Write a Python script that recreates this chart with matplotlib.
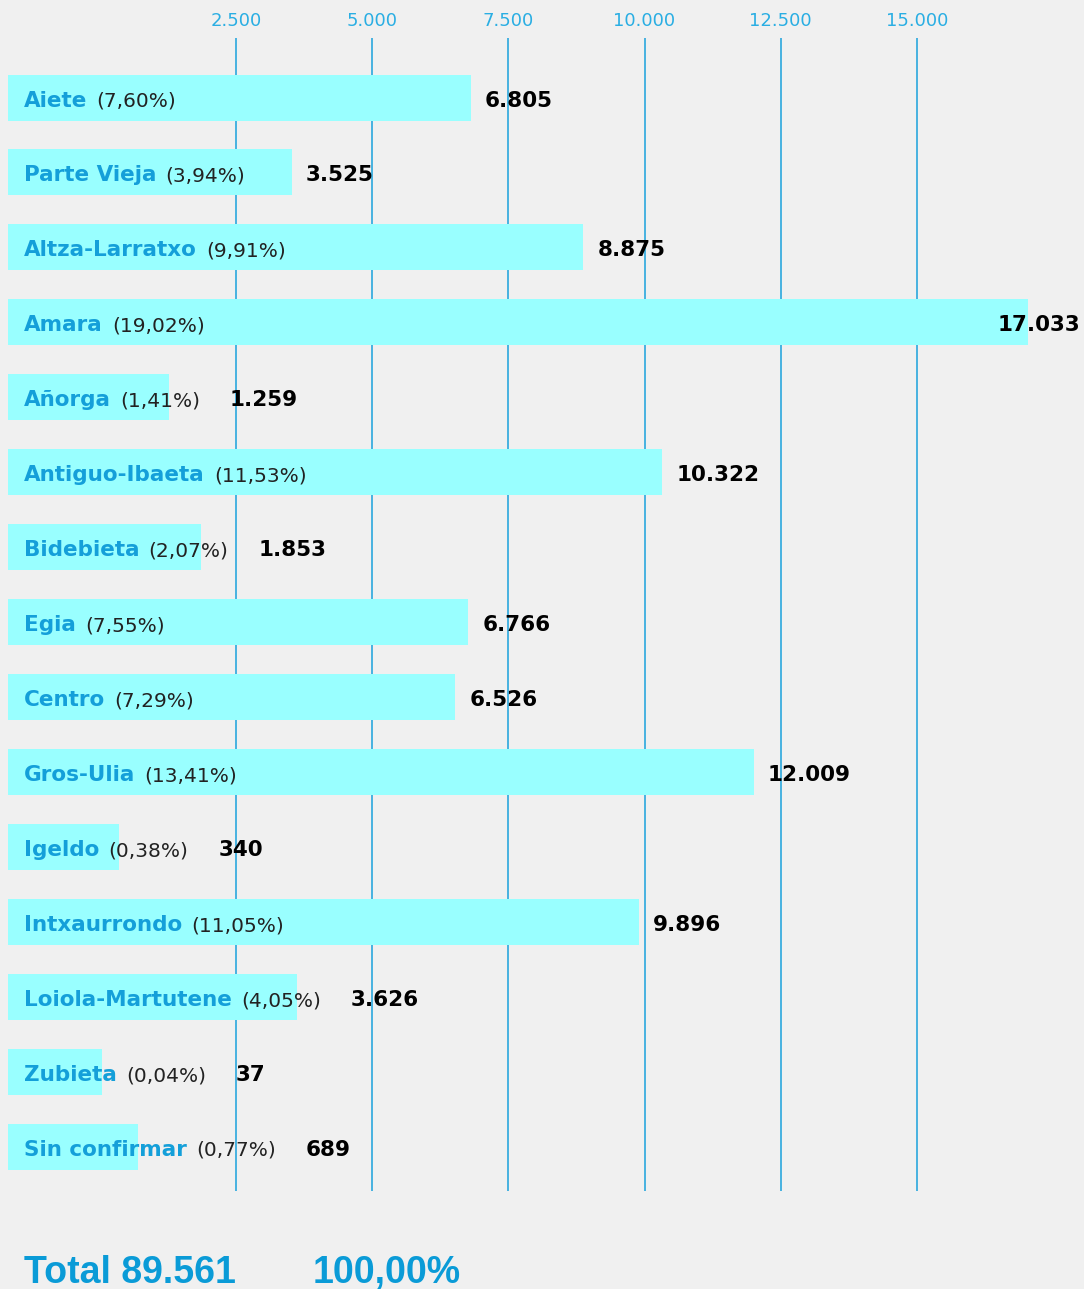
import matplotlib.pyplot as plt
from matplotlib.ticker import FuncFormatter

# datos por barrio
barrios = ["Aiete", "Parte Vieja", "Altza-Larratxo", "Amara", "Añorga",
           "Antiguo-Ibaeta", "Bidebieta", "Egia", "Centro", "Gros-Ulia",
           "Igeldo", "Intxaurrondo", "Loiola-Martutene", "Zubieta", "Sin confirmar"]
valores = [6805, 3525, 8875, 17033, 1259, 10322, 1853, 6766, 6526, 12009,
           340, 9896, 3626, 37, 689]
porcentajes = [7.60, 3.94, 9.91, 19.02, 1.41, 11.53, 2.07, 7.55, 7.29, 13.41,
               0.38, 11.05, 4.05, 0.04, 0.77]
ticks = [2500, 5000, 7500, 10000, 12500, 15000]

total = sum(valores)

BG = "#f0f0f0"
BAR = "#99ffff"
AZUL = "#149fd9"
GRID = "#2aa7dd"
TICK = "#2aaee3"


def miles(v):
    return f"{v:,}".replace(",", ".")


def pct(p):
    return f"{p:.2f}".replace(".", ",")


fig = plt.figure(figsize=(10.84, 12.89), dpi=100, facecolor=BG)
ax = fig.add_axes([8 / 1084, 98 / 1289, 1076 / 1084, 1153 / 1289])
ax.set_facecolor(BG)

xmin, xmax = -1690, 18070
ax.set_xlim(xmin, xmax)
ax.set_ylim(14.587, -0.794)

y = list(range(len(barrios)))
ax.barh(y, [v - xmin for v in valores], left=xmin, height=0.614, color=BAR, zorder=2)

ax.set_xticks(ticks)
ax.xaxis.set_major_formatter(FuncFormatter(lambda v, p: miles(int(v))))
ax.xaxis.tick_top()
ax.tick_params(axis="x", length=0, pad=5.5, labelsize=13, labelcolor=TICK)
ax.set_yticks([])
ax.grid(axis="x", color=GRID, linewidth=1.2, zorder=1)
ax.set_axisbelow(True)
for s in ax.spines.values():
    s.set_visible(False)

fs = 15.5
dy = -3  # el texto va un poco por debajo del centro de la barra
nombres, pcts = [], []
for i, (b, p) in enumerate(zip(barrios, porcentajes)):
    t = ax.annotate(b, xy=(0, i), xycoords=("axes fraction", "data"),
                    xytext=(16, dy), textcoords="offset pixels",
                    va="center", ha="left", fontsize=fs, fontweight="bold",
                    color=AZUL, zorder=3)
    t2 = ax.annotate(f"({pct(p)}%)", xy=(1, 0), xycoords=t,
                     xytext=(9, 0), textcoords="offset pixels",
                     va="bottom", ha="left", fontsize=fs - 1, color="#222222", zorder=3)
    nombres.append(t)
    pcts.append(t2)

fig.canvas.draw()
r = fig.canvas.get_renderer()
W = fig.bbox.width
for i, v in enumerate(valores):
    x_bar = ax.transData.transform((v, i))[0]
    x = max(x_bar + 14, pcts[i].get_window_extent(r).x1 + 30)
    t = ax.annotate(miles(v), xy=(v, i), xytext=(x - x_bar, dy),
                    textcoords="offset pixels", va="center", ha="left",
                    fontsize=fs, fontweight="bold", color="black", zorder=4)
    w = t.get_window_extent(r).width
    if x + w > W - 4:
        t.set_position((W - 4 - w - x_bar, dy))

fig.text(24 / 1084, 6 / 1289, f"Total {miles(total)}", color="#0a9bd7",
         fontsize=27, fontweight="bold", family="Liberation Sans",
         ha="left", va="baseline")
fig.text(313 / 1084, 6 / 1289, "100,00%", color="#0a9bd7",
         fontsize=27, fontweight="bold", family="Liberation Sans",
         ha="left", va="baseline")

fig.savefig("out.png", dpi=100, facecolor=BG)
